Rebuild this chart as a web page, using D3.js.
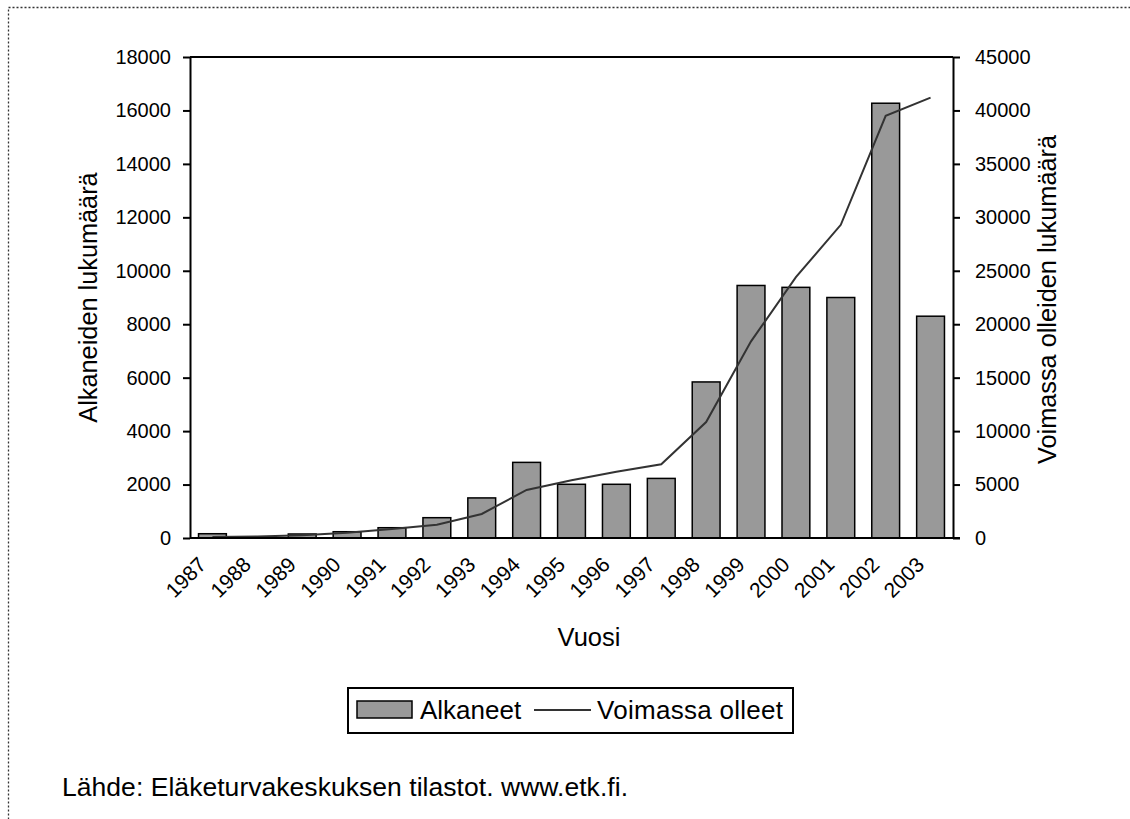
<!DOCTYPE html>
<html><head><meta charset="utf-8">
<script src="https://cdn.jsdelivr.net/npm/d3@7"></script>
<style>body{margin:0;background:#fff}svg{display:block;font-family:"Liberation Sans",Arial,sans-serif}</style>
</head><body><svg id="c" width="1130" height="819"></svg>
<script>
const years = ["1987","1988","1989","1990","1991","1992","1993","1994","1995","1996","1997","1998","1999","2000","2001","2002","2003"];
const alkaneet = [160,30,150,235,385,760,1500,2830,2010,2010,2230,5840,9450,9380,9000,16270,8300];
const voimassa = [100,150,250,500,850,1250,2250,4500,5400,6200,6900,10850,18400,24400,29300,39500,41200];
const leftTicks = [0,2000,4000,6000,8000,10000,12000,14000,16000,18000];
const rightTicks = [0,5000,10000,15000,20000,25000,30000,35000,40000,45000];

const svg = d3.select("#c");
const m = {l:190, r:953, t:57, b:538};
svg.append("rect").attr("x",8.5).attr("y",7.5).attr("width",1140).attr("height",830)
  .attr("fill","none").attr("stroke","#333").attr("stroke-width",1.3).attr("stroke-dasharray","2,2");

const x = d3.scaleBand().domain(years).range([m.l,m.r]).paddingInner(0.38).paddingOuter(0.19);
const xc = d3.scaleBand().domain(years).range([m.l,m.r]);
const yL = d3.scaleLinear().domain([0,18000]).range([m.b,m.t]);
const yR = d3.scaleLinear().domain([0,45000]).range([m.b,m.t]);

// bars
svg.append("g").selectAll("rect").data(years).join("rect")
  .attr("x",d=>x(d)).attr("width",x.bandwidth())
  .attr("y",(d,i)=>yL(alkaneet[i])).attr("height",(d,i)=>m.b-yL(alkaneet[i]))
  .attr("fill","#999999").attr("stroke","#000").attr("stroke-width",1.5);

// line
const line = d3.line().x((d,i)=>xc(years[i])+xc.bandwidth()/2).y(d=>yR(d));
svg.append("path").datum(voimassa).attr("d",line).attr("fill","none")
  .attr("stroke","#333").attr("stroke-width",2);

// frame top
svg.append("line").attr("x1",m.l).attr("x2",m.r).attr("y1",m.t).attr("y2",m.t).attr("stroke","#000").attr("stroke-width",2);

// axes
const fs = "20px";
const gL = svg.append("g").attr("transform",`translate(${m.l},0)`)
  .call(d3.axisLeft(yL).tickValues(leftTicks).tickSize(7).tickSizeOuter(0).tickPadding(12).tickFormat(d3.format("d")));
const gR = svg.append("g").attr("transform",`translate(${m.r},0)`)
  .call(d3.axisRight(yR).tickValues(rightTicks).tickSize(7).tickSizeOuter(0).tickPadding(15).tickFormat(d3.format("d")));
const gB = svg.append("g").attr("transform",`translate(0,${m.b})`)
  .call(d3.axisBottom(xc).tickSize(0).tickSizeOuter(0));
[gL,gR,gB].forEach(g=>{
  g.select(".domain").attr("stroke","#000").attr("stroke-width",2);
  g.selectAll(".tick line").attr("stroke","#000").attr("stroke-width",2);
  g.selectAll("text").attr("font-size",fs).attr("fill","#000").attr("font-family","Liberation Sans, Arial, sans-serif");
});
gB.selectAll(".tick text").attr("text-anchor","end").attr("dy","0").attr("font-size","21px")
  .attr("transform","translate(-5,28) rotate(-45)").attr("y",0).attr("x",0);
gB.select(".domain").attr("d",`M${m.l},0H${m.r+7}`);

// titles
svg.append("text").attr("transform",`translate(97,${(m.t+m.b)/2}) rotate(-90)`).attr("text-anchor","middle")
  .attr("font-size","25.3px").text("Alkaneiden lukumäärä");
svg.append("text").attr("transform",`translate(1056,${(m.t+m.b)/2 + 2}) rotate(-90)`).attr("text-anchor","middle")
  .attr("font-size","25.3px").text("Voimassa olleiden lukumäärä");
svg.append("text").attr("x",589).attr("y",646).attr("text-anchor","middle").attr("font-size","25.5px").text("Vuosi");

// legend
const lg = svg.append("g");
lg.append("rect").attr("x",348).attr("y",688).attr("width",445).attr("height",45).attr("fill","#fff").attr("stroke","#000").attr("stroke-width",2);
lg.append("rect").attr("x",357).attr("y",701).attr("width",55).attr("height",17).attr("fill","#999999").attr("stroke","#000").attr("stroke-width",1.5);
lg.append("text").attr("x",420).attr("y",719).attr("font-size","26px").text("Alkaneet");
lg.append("line").attr("x1",534).attr("x2",591).attr("y1",710).attr("y2",710).attr("stroke","#333").attr("stroke-width",2);
lg.append("text").attr("x",597).attr("y",719).attr("font-size","26px").attr("textLength",186).text("Voimassa olleet");

svg.append("text").attr("x",62).attr("y",796).attr("font-size","26.5px").attr("textLength",566).text("Lähde: Eläketurvakeskuksen tilastot. www.etk.fi.");
</script></body></html>
